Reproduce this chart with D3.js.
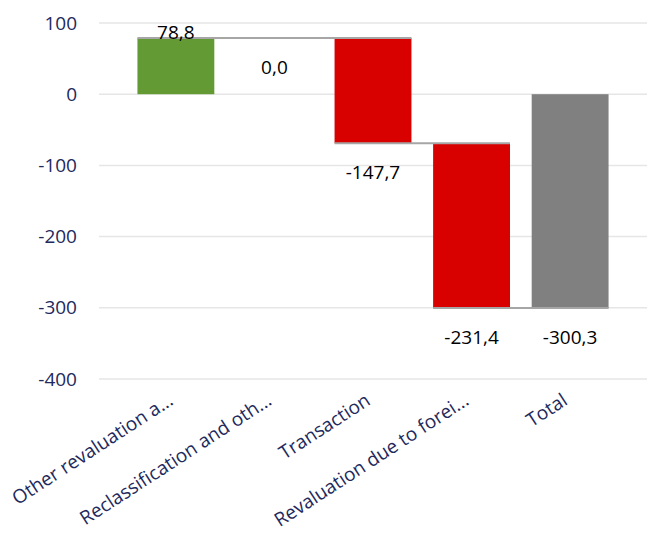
<!DOCTYPE html>
<html>
<head>
<meta charset="utf-8">
<script src="https://cdn.jsdelivr.net/npm/d3@7"></script>
<style>
  body { margin: 0; background: #fff; }
  svg { display: block; font-family: "Open Sans", sans-serif; }
</style>
</head>
<body>
<svg width="647" height="540"></svg>
<script>
const width = 647;
const height = 540;

// data
const categories = ["Other revaluation a...", "Reclassification and oth...", "Transaction", "Revaluation due to forei...", "Total"];
const values = [78.8, 0.0, -147.7, -231.4, -300.3];
const labels = ["78,8", "0,0", "-147,7", "-231,4", "-300,3"];
const yTicks = [100, 0, -100, -200, -300, -400];

const svg = d3.select("svg");

const margin = { top: 23, right: 0, bottom: 161, left: 99 };

const xScale = d3.scaleBand()
    .domain(categories)
    .range([margin.left, width - margin.right])
    .paddingInner(0.22)
    .paddingOuter(0.39);

const yScale = d3.scaleLinear()
    .domain([-400, 100])
    .range([height - margin.bottom, margin.top]);

// build waterfall steps
let run = 0;
const bars = categories.map((c, i) => {
    const isTotal = i === categories.length - 1;
    const start = isTotal ? 0 : run;
    const end = isTotal ? values[i] : run + values[i];
    if (!isTotal) run = end;
    let color = values[i] >= 0 ? "#649a34" : "#d90000";
    if (isTotal) color = "#808080";
    return { cat: c, start, end, value: values[i], label: labels[i], color };
});

// gridlines
svg.append("g")
    .selectAll("line")
    .data(yTicks)
    .enter()
    .append("line")
    .attr("x1", margin.left)
    .attr("x2", width)
    .attr("y1", d => yScale(d))
    .attr("y2", d => yScale(d))
    .attr("stroke", "#e6e6e6")
    .attr("stroke-width", 1.5);

// y tick labels
svg.append("g")
    .selectAll("text")
    .data(yTicks)
    .enter()
    .append("text")
    .attr("x", 77)
    .attr("y", d => yScale(d))
    .attr("dy", "0.35em")
    .attr("text-anchor", "end")
    .attr("font-size", "19px")
    .attr("fill", "#22295c")
    .text(d => d);

// bars
svg.append("g")
    .selectAll("rect")
    .data(bars)
    .enter()
    .append("rect")
    .attr("x", d => xScale(d.cat))
    .attr("width", xScale.bandwidth())
    .attr("y", d => yScale(Math.max(d.start, d.end)))
    .attr("height", d => Math.abs(yScale(d.start) - yScale(d.end)))
    .attr("fill", d => d.color);

// connector lines: at each bar's end value, to the far edge of the next bar
svg.append("g")
    .selectAll("line")
    .data(bars.slice(0, -1))
    .enter()
    .append("line")
    .attr("x1", d => xScale(d.cat))
    .attr("x2", (d, i) => xScale(bars[i + 1].cat) + xScale.bandwidth())
    .attr("y1", d => yScale(d.end))
    .attr("y2", d => yScale(d.end))
    .attr("stroke", "#a6a6a6")
    .attr("stroke-width", 2);

// data labels
svg.append("g")
    .selectAll("text")
    .data(bars)
    .enter()
    .append("text")
    .attr("x", d => xScale(d.cat) + xScale.bandwidth() / 2)
    .attr("y", d => d.value > 0 ? yScale(d.end) + 1 : yScale(d.end) + 36)
    .attr("text-anchor", "middle")
    .attr("font-size", "19px")
    .attr("fill", "#000")
    .text(d => d.label);

// x labels, rotated
svg.append("g")
    .selectAll("text")
    .data(categories)
    .enter()
    .append("text")
    .attr("transform", d => `translate(${xScale(d) + xScale.bandwidth() / 2 - 5}, ${height - margin.bottom + 19}) rotate(-33)`)
    .attr("text-anchor", "end")
    .attr("dy", "0.35em")
    .attr("font-size", "19px")
    .attr("fill", "#22295c")
    .text(d => d);
</script>
</body>
</html>
